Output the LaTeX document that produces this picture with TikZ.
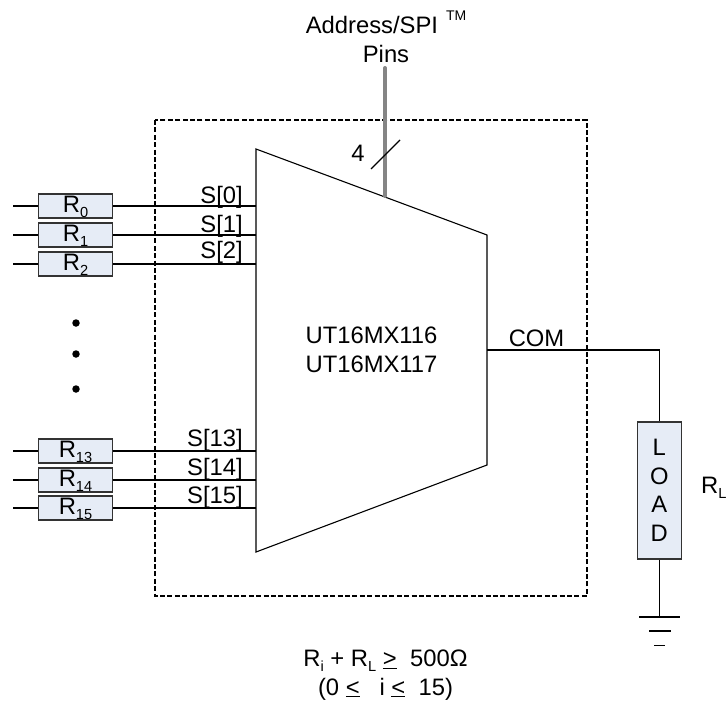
\documentclass[tikz,border=0pt]{standalone}
\usepackage{fontspec}
\setmainfont{Liberation Sans}
\usepackage{tikz}
\usetikzlibrary{%
  positioning,%
  calc%
}
\definecolor{resfill}{RGB}{230,236,246}
\newcommand{\lowtxt}[1]{\raisebox{-5pt}{\fontsize{14.6}{14.6}\selectfont #1}}

\begin{document}
\begin{tikzpicture}[
    x=1pt, y=-1pt,
    txt/.style={font=\fontsize{23.8}{28.5}\selectfont, inner sep=0pt, align=center},
    res/.style={draw=black!80, line width=1.2pt, fill=resfill, minimum width=74pt, minimum height=24pt,
    inner sep=0pt, text height=14pt, text depth=2pt, font=\fontsize{23.8}{28.5}\selectfont},
    wire/.style={line width=1.1pt},
    pinlabel/.style={txt, anchor=base east}
]
    \useasboundingbox (0,0) rectangle (727,704);
    \draw[line width=1.7pt, dash pattern=on 5pt off 2.4pt] (155,120) rectangle (587,596);
    \coordinate (m1) at (256,149);
    \coordinate (m2) at (487,235);
    \coordinate (m3) at (487,465);
    \coordinate (m4) at (256,552);
    \draw[wire] (m1) -- (m2) -- (m3) -- (m4) -- cycle;
    \node[txt] (part) at (371.5,350) {UT16MX116\\UT16MX117};
    % resistors on the left
    \foreach \name/\ypos/\base in {0/206/203, 1/235/232, 2/264/258, 13/451/446, 14/480/475, 15/508/503} {
        \coordinate (in\name) at (13,\ypos);
        \coordinate (s\name) at (256,\ypos);
        \node[res] (r\name) at (75.5,\ypos) {R\lowtxt{\name}};
        \draw[wire] (in\name) -- (r\name.west);
        \draw[wire] (r\name.east) -- (s\name);
        \node[pinlabel] (l\name) at (243,\base) {S[\name]};
    }
    \foreach \ypos/\name in {323/a, 354/b, 389/c} {
        \node[circle, fill=black, inner sep=0pt, minimum size=7.5pt] (dot\name) at (76,\ypos) {};
    }
    % address pins
    \node[txt, anchor=base] (addr) at (386,62)
        {Address/SPI\hspace{8pt}\raisebox{13pt}{\fontsize{14}{14}\selectfont TM}\\Pins};
    \coordinate (addrtop) at (385,68);
    \coordinate (addrend) at (385,196);
    \draw[line width=4pt, black!48, line cap=round] (addrtop) -- (addrend);
    \coordinate (sl1) at (371,169);
    \coordinate (sl2) at (400,140);
    \draw[wire] (sl1) -- (sl2);
    \node[txt, anchor=base] (four) at (358,161.5) {4};
    % load
    \coordinate (com) at (487,350);
    \node[res, minimum width=44pt, minimum height=137pt, align=center, text height=, text depth=] (load) at (659.3,490.5)
        {L\\O\\A\\D};
    \node[txt, anchor=base east] (comlabel) at (564.5,346) {COM};
    \draw[wire] (com) -| (load.north);
    \node[txt, anchor=base west] (rl) at (701,493) {R\lowtxt{L}};
    \coordinate (g1l) at (639,617);
    \coordinate (g1r) at (679.5,617);
    \coordinate (g2l) at (649,631);
    \coordinate (g2r) at (671,631);
    \coordinate (g3l) at (654,645.5);
    \coordinate (g3r) at (665,645.5);
    \coordinate (gtop) at (659.3,617);
    \draw[wire] (load.south) -- (gtop);
    \draw[wire] (g1l) -- (g1r);
    \draw[wire] (g2l) -- (g2r);
    \draw[wire] (g3l) -- (g3r);
    % condition below
    \node[txt, anchor=base] (cond) at (385.5,695) {R\lowtxt{i} + R\lowtxt{L} \underline{>}\ \ 500Ω\\(0 \underline{<}\ \ \ i \underline{<}\ \ 15)};
\end{tikzpicture}
\end{document}
